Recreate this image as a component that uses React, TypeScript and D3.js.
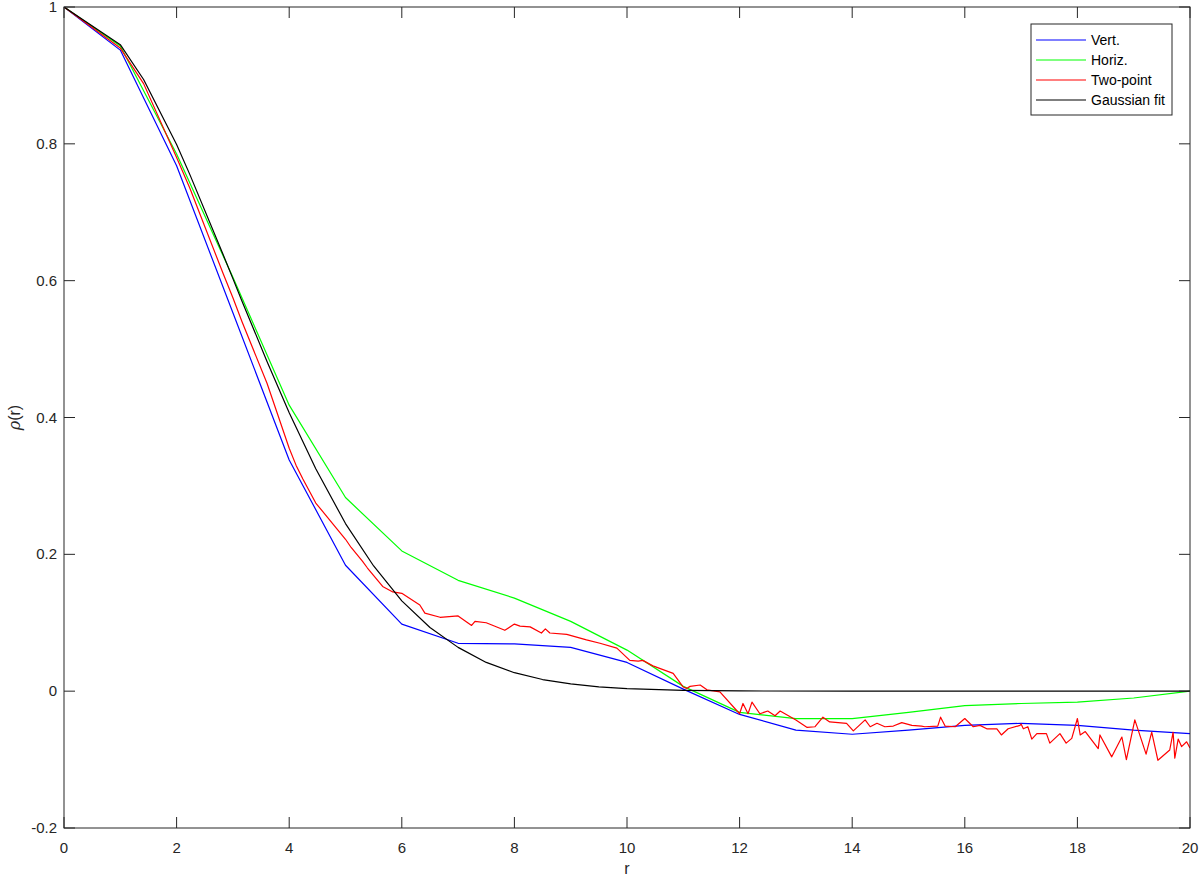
import React from "react";
import * as d3 from "d3";

const xTicks = [0, 2, 4, 6, 8, 10, 12, 14, 16, 18, 20];
const yTicks = [-0.2, 0, 0.2, 0.4, 0.6, 0.8, 1];

const vertR = [0, 1, 2, 3, 4, 5, 6, 7, 8, 9, 10, 11, 12, 13, 14, 15, 16, 17, 18, 19, 20];
const vertV = [1, 0.937, 0.768, 0.553, 0.338, 0.184, 0.098, 0.07, 0.069, 0.064, 0.042, 0.003, -0.034, -0.057, -0.063, -0.057, -0.05, -0.047, -0.05, -0.057, -0.062];

const horizR = [0, 1, 2, 3, 4, 5, 6, 7, 8, 9, 10, 11, 12, 13, 14, 15, 16, 17, 18, 19, 20];
const horizV = [1, 0.943, 0.785, 0.605, 0.418, 0.283, 0.205, 0.162, 0.136, 0.102, 0.06, 0.007, -0.031, -0.04, -0.04, -0.031, -0.021, -0.018, -0.016, -0.01, 0];

const twoPoint: [number, number][] = [
  [0, 1], [1, 0.94], [1.414, 0.888], [2, 0.78], [2.236, 0.735], [2.828, 0.61], [3, 0.575], [3.162, 0.54],
  [3.606, 0.45], [4, 0.355], [4.123, 0.33], [4.243, 0.31], [4.472, 0.275], [5, 0.222], [5.1, 0.21], [5.3, 0.19],
  [5.39, 0.18], [5.66, 0.153], [5.84, 0.145], [6.0, 0.143], [6.32, 0.126], [6.41, 0.114], [6.68, 0.108], [7.0, 0.11],
  [7.24, 0.096], [7.3, 0.102], [7.5, 0.1], [7.83, 0.089], [8.0, 0.098], [8.1, 0.095], [8.28, 0.094], [8.48, 0.085],
  [8.55, 0.091], [8.63, 0.085], [8.93, 0.083], [9.28, 0.075], [9.52, 0.07], [9.82, 0.063], [10.05, 0.045], [10.2, 0.044],
  [10.28, 0.045], [10.46, 0.037], [10.82, 0.026], [11.0, 0.006], [11.06, 0.004], [11.12, 0.007], [11.3, 0.009], [11.42, 0.002],
  [11.65, -0.001], [12.0, -0.033], [12.06, -0.018], [12.15, -0.033], [12.22, -0.016], [12.36, -0.033], [12.5, -0.029], [12.63, -0.036],
  [12.72, -0.029], [13.0, -0.042], [13.2, -0.053], [13.34, -0.052], [13.48, -0.038], [13.6, -0.045], [13.9, -0.047], [14.02, -0.058],
  [14.23, -0.042], [14.32, -0.052], [14.44, -0.047], [14.58, -0.052], [14.73, -0.051], [14.88, -0.046], [15.06, -0.05], [15.23, -0.051],
  [15.29, -0.052], [15.52, -0.051], [15.57, -0.038], [15.65, -0.051], [15.83, -0.052], [16.0, -0.04], [16.15, -0.052], [16.27, -0.05],
  [16.39, -0.055], [16.57, -0.055], [16.65, -0.064], [16.77, -0.055], [16.98, -0.05], [17.0, -0.048], [17.04, -0.055], [17.12, -0.052],
  [17.19, -0.07], [17.28, -0.062], [17.45, -0.062], [17.51, -0.076], [17.69, -0.062], [17.8, -0.076], [17.9, -0.069], [18.0, -0.04],
  [18.05, -0.064], [18.14, -0.059], [18.37, -0.084], [18.4, -0.064], [18.61, -0.096], [18.79, -0.067], [18.87, -0.1], [19.02, -0.042],
  [19.22, -0.092], [19.32, -0.06], [19.43, -0.101], [19.64, -0.086], [19.7, -0.06], [19.73, -0.098], [19.79, -0.07], [19.85, -0.081],
  [19.94, -0.074], [20, -0.083],
];

const gaussR = [0, 1, 1.414, 2, 2.236, 2.828, 3, 3.162, 3.606, 4, 4.472, 5, 5.5, 6, 6.5, 7, 7.5, 8, 8.5, 9, 9.5, 10, 11, 12, 14, 16, 18, 20];
const gaussV = [1, 0.945, 0.894, 0.799, 0.755, 0.638, 0.603, 0.57, 0.482, 0.407, 0.325, 0.245, 0.183, 0.132, 0.093, 0.064, 0.042, 0.027, 0.017, 0.0106, 0.0063, 0.0036, 0.0011, 0.0003, 0, 0, 0, 0];

const legendLabels = ["Vert.", "Horiz.", "Two-point", "Gaussian fit"];
const seriesColors = ["#0000ff", "#00ff00", "#ff0000", "#000000"];

const W = 1200, H = 879;
const left = 64, right = 1190, top = 7, bottom = 828;
const axisColor = "#262626";
const font = "'Liberation Sans', Arial, Helvetica, sans-serif";

export default function App() {
  const x = d3.scaleLinear().domain([0, 20]).range([left, right]);
  const y = d3.scaleLinear().domain([-0.2, 1]).range([bottom, top]);
  const line = d3.line<[number, number]>().x(d => x(d[0])).y(d => y(d[1]));
  const zip = (a: number[], b: number[]) => a.map((v, i) => [v, b[i]] as [number, number]);
  const series = [zip(vertR, vertV), zip(horizR, horizV), twoPoint, zip(gaussR, gaussV)];
  const tickLen = 11;
  const fmt = (v: number) => (Math.abs(v) < 1e-9 ? "0" : String(+v.toFixed(1)));

  const lgX = 1031, lgY = 24, lgW = 141, lgH = 91;
  return (
    <div style={{ position: "absolute", left: 0, top: 0 }}>
      <svg width={W} height={H} style={{ display: "block", background: "#fff" }}>
        <rect x={0} y={0} width={W} height={H} fill="#fff" />
        <defs>
          <clipPath id="plot"><rect x={left} y={top} width={right - left} height={bottom - top} /></clipPath>
        </defs>
        <g clipPath="url(#plot)">
          {series.map((s, i) => (
            <path key={i} d={line(s) || ""} fill="none" stroke={seriesColors[i]} strokeWidth={1.2} strokeLinejoin="round" />
          ))}
        </g>
        {/* box */}
        <rect x={left} y={top} width={right - left} height={bottom - top} fill="none" stroke={axisColor} strokeWidth={1} />
        {xTicks.map(t => (
          <g key={"x" + t}>
            <line x1={x(t)} x2={x(t)} y1={bottom} y2={bottom - tickLen} stroke={axisColor} />
            <line x1={x(t)} x2={x(t)} y1={top} y2={top + tickLen} stroke={axisColor} />
            <text x={x(t)} y={853} textAnchor="middle" fontSize={15} fontFamily={font} fill={axisColor}>{fmt(t)}</text>
          </g>
        ))}
        {yTicks.map(t => (
          <g key={"y" + t}>
            <line x1={left} x2={left + tickLen} y1={y(t)} y2={y(t)} stroke={axisColor} />
            <line x1={right} x2={right - tickLen} y1={y(t)} y2={y(t)} stroke={axisColor} />
            <text x={57} y={y(t) + 5} textAnchor="end" fontSize={15} fontFamily={font} fill={axisColor}>{fmt(t)}</text>
          </g>
        ))}
        <text x={(left + right) / 2} y={874} textAnchor="middle" fontSize={16} fontFamily={font} fill={axisColor}>r</text>
        <text transform={`translate(20,${(top + bottom) / 2}) rotate(-90)`} textAnchor="middle" fontSize={16} fontFamily={font} fill={axisColor}>
          <tspan fontStyle="italic" fontFamily="'DejaVu Serif', serif">ρ</tspan>(r)
        </text>
        {/* legend */}
        <rect x={lgX} y={lgY} width={lgW} height={lgH} fill="#fff" stroke={axisColor} strokeWidth={1} />
        {legendLabels.map((lab, i) => {
          const ly = lgY + 16 + i * 20;
          return (
            <g key={lab}>
              <line x1={lgX + 5} x2={lgX + 55} y1={ly} y2={ly} stroke={seriesColors[i]} strokeWidth={1.2} />
              <text x={lgX + 60} y={ly + 5} fontSize={14} fontFamily={font} fill="#000">{lab}</text>
            </g>
          );
        })}
      </svg>
    </div>
  );
}
